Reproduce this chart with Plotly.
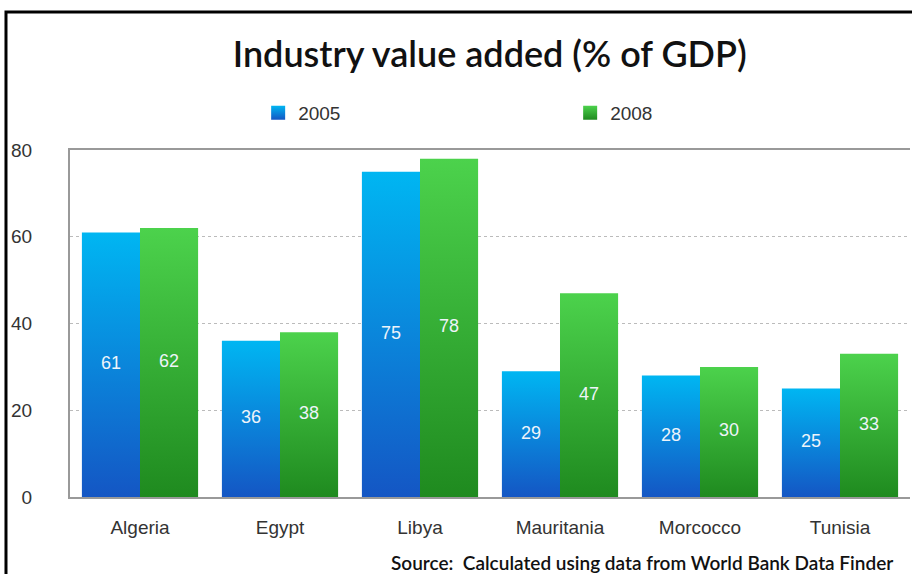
import plotly.graph_objects as go

countries = ["Algeria", "Egypt", "Libya", "Mauritania", "Morcocco", "Tunisia"]
years = ["2005", "2008"]
values_2005 = [61, 36, 75, 29, 28, 25]
values_2008 = [62, 38, 78, 47, 30, 33]

# bar gradients: bottom -> top
BLUE = [[0, "#1456c4"], [1, "#00b6f2"]]
GREEN = [[0, "#1f8a1f"], [1, "#4cd24c"]]
BAR_W = 0.415

fig = go.Figure()

series = [(years[0], values_2005, BLUE, -1), (years[1], values_2008, GREEN, 1)]
for name, vals, scale, side in series:
    for i, v in enumerate(vals):
        x0, x1 = i, i + side * BAR_W
        fig.add_trace(go.Scatter(
            x=[x0, x0, x1, x1, x0], y=[0, v, v, 0, 0],
            mode="lines", fill="toself",
            line=dict(width=0),
            fillgradient=dict(type="vertical", colorscale=scale),
            fillcolor=scale[0][1],
            name=name, legendgroup=name, showlegend=False,
            hoverinfo="skip",
        ))
    # legend entry: small square
    fig.add_trace(go.Scatter(
        x=[None], y=[None], mode="markers", name=name, legendgroup=name,
        marker=dict(symbol="square", size=14, color=scale[1][1],
                    gradient=dict(type="vertical", color=scale[0][1])),
    ))
    fig.add_trace(go.Scatter(
        x=[i + side * BAR_W / 2 for i in range(len(vals))],
        y=[v / 2 for v in vals],
        mode="text", text=[str(v) for v in vals],
        textfont=dict(family="Liberation Sans", size=18, color="#eef4fa"),
        showlegend=False, hoverinfo="skip",
    ))

fig.update_layout(
    width=912, height=574,
    margin=dict(l=70, r=2, t=150, b=77),
    paper_bgcolor="white", plot_bgcolor="white",
    title=dict(text="Industry value added (% of GDP)", x=0.537, y=0.905,
               xanchor="center", yanchor="middle",
               font=dict(family="Lato", size=36, color="#111", weight=600)),
    legend=dict(orientation="h", x=0.224, y=1.107, xanchor="left", yanchor="middle",
                entrywidth=267, font=dict(family="Liberation Sans", size=19, color="#333"),
                itemwidth=30),
    xaxis=dict(range=[-0.5, 5.5], tickvals=list(range(len(countries))), ticktext=countries,
               showgrid=False, showline=True, linecolor="#999", linewidth=2, mirror=True,
               ticks="outside", ticklen=12, tickcolor="white",
               tickfont=dict(family="Liberation Sans", size=19, color="#333")),
    yaxis=dict(range=[0, 80], tickvals=[0, 20, 40, 60, 80],
               showgrid=True, gridcolor="#bbb", griddash="dot", gridwidth=1,
               showline=True, linecolor="#999", linewidth=2, zeroline=False,
               ticks="outside", ticklen=32, tickcolor="white",
               tickfont=dict(family="Liberation Sans", size=19, color="#333")),
    annotations=[dict(text="Source:  Calculated using data from World Bank Data Finder",
                      xref="paper", yref="paper", x=0.982, y=-0.19,
                      xanchor="right", yanchor="middle", showarrow=False,
                      font=dict(family="Lato", size=19, color="#111", weight=600))],
    shapes=[dict(type="path", xref="paper", yref="paper",
                 path="M -0.0762,-0.3 L -0.0762,1.3977 L 1.01,1.3977",
                 line=dict(color="black", width=3))],
)

fig.write_html("out.html", config={"displayModeBar": False},
               post_script="document.body.style.margin='0';")
